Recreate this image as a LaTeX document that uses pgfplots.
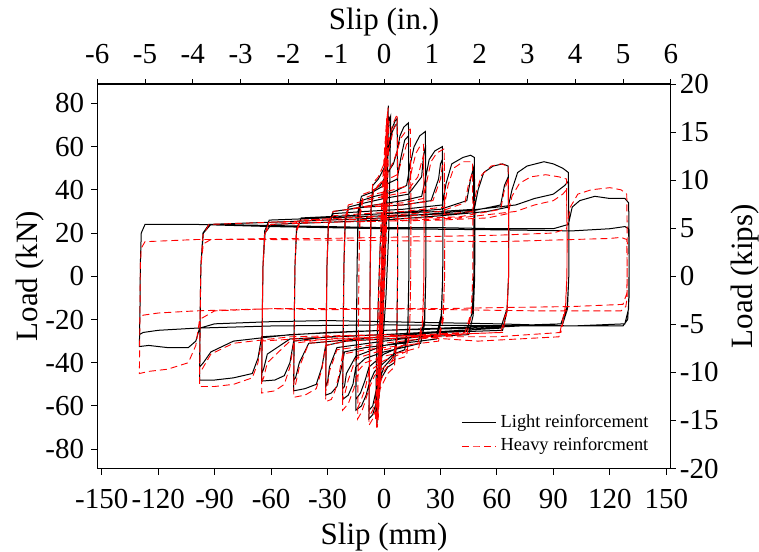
\documentclass[border=0pt]{standalone}
\usepackage{fontspec}
\setmainfont{Liberation Serif}
\usepackage{pgfplots}
\pgfplotsset{compat=1.18}
\begin{document}
\begin{tikzpicture}
\pgfplotsset{
 every axis/.append style={
  width=286.7pt, height=192.2pt, scale only axis,
  tick align=outside, major tick length=3pt,
  tick style={black, line width=0.5pt},
  axis line style={line width=0.6pt},
  tick label style={font=\fontsize{14.5}{16}\selectfont},
  label style={font=\fontsize{15.5}{18}\selectfont, inner sep=0pt},
  /pgf/number format/assume math mode=true,
 }
}
\begin{axis}[
 xmin=-152.4, xmax=152.4, ymin=-88.96, ymax=88.96,
 xtick={-150,-120,...,150}, ytick={-80,-60,...,80},
 xtick pos=bottom, ytick pos=left,
 xticklabel style={yshift=-4pt},
 xlabel={Slip (mm)}, ylabel={Load (kN)},
 xlabel style={at={([yshift=-34pt]rel axis cs:0.5,0)}, anchor=center},
 ylabel style={at={([xshift=-33.5pt]rel axis cs:0,0.5)}, anchor=center},
 legend style={at={(0.979,0.016)}, anchor=south east, draw=none, fill=none,
   font=\fontsize{9.2}{10.5}\selectfont},
 legend cell align=left,
]
\coordinate (fsw) at (rel axis cs:0,0);
\coordinate (fne) at (rel axis cs:1,1);
\addplot[black, line width=0.5pt] coordinates {
(0,0) (0.5,12) (1,25) (0.6,10) (0,-5) (-0.5,-15) (-1,-24) (-0.6,-10) (0,2)
(0.8,20) (1.5,40) (2,52) (1.4,30) (0.5,5) (-0.5,-18) (-1.5,-35) (-2,-44) (-1.3,-22) (-0.3,0)
(0.5,25) (1.2,50) (1.8,68) (2.3,79) (2.0,70) (1.2,45) (0.3,15) (-0.8,-15) (-2,-40) (-3,-58) (-3.8,-69) (-3.2,-50) (-2.2,-25) (-1,0)
(0.2,20) (1.0,45) (2.0,70) (2.6,74) (1.8,55) (0.8,25) (-0.5,-10) (-1.8,-38) (-3,-58) (-4,-66) (-3.3,-45) (-2.2,-20) (-1.2,5)
(-0.2,30) (1.2,58) (2.8,72) (3.5,74) (3.2,50) (2.5,20) (1,-10) (-1,-35) (-2.5,-55) (-4.5,-66) (-4,-40) (-3,-10) (-2,15)
(0.5,38) (2.5,60) (4,68) (6,72) (7,73) (7.3,40) (7.2,0) (6.8,-30) (5.5,-40) (2,-42) (-2,-48) (-4,-58) (-6,-64) (-8,-66)
(-7.6,-30) (-7.4,0) (-7,30) (-6,42) (-3,45) (0,50) (2.5,58) (4,66) (6,70) (7,70)
(7.3,35) (7.2,0) (6.8,-28) (5,-37) (0,-42) (-4,-52) (-6,-60) (-8,-62)
(-7.6,-25) (-7.3,5) (-6.8,32) (-5.5,40) (-2,42) (2,48) (5,52) (7,58) (8.5,65) (10.5,69) (13,71)
(13.3,35) (13.2,0) (12.7,-25) (11,-34) (5,-36) (0,-40) (-5,-44) (-8,-50) (-9.5,-55) (-12,-60) (-15,-62)
(-14.6,-25) (-14.3,5) (-13.8,30) (-12,37) (-6,39) (0,42) (7,45) (9,55) (11,63) (13,65)
(13.3,30) (13.2,0) (12.6,-25) (10.5,-32) (0,-36) (-8,-42) (-10,-48) (-12.5,-54) (-15,-57)
(-14.6,-20) (-14.3,5) (-13.7,28) (-12,35) (-5,37) (5,39) (12,42) (14,52) (16,60) (19,65) (22,67)
(22.3,30) (22.2,0) (21.6,-22) (19.5,-31) (10,-33) (0,-35) (-10,-38) (-15,-42) (-16.5,-50) (-19,-55) (-22,-57)
(-21.6,-20) (-21.3,5) (-20.7,26) (-19,32) (-10,34) (0,36) (13,38) (20,46) (21,56) (22,60)
(22.3,25) (22.2,0) (21.5,-20) (19,-29) (0,-32) (-15,-37) (-20,-45) (-21,-51) (-22,-52)
(-21.6,-18) (-21.3,5) (-20.6,25) (-19,31) (-5,33) (10,35) (20,37) (22,45) (24,54) (27,58) (31,60)
(31.3,25) (31.2,0) (30.5,-20) (28,-29) (10,-31) (-10,-33) (-21,-35) (-23,-44) (-25,-51) (-28,-54) (-31,-55)
(-30.6,-18) (-30.3,5) (-29.6,24) (-27,30) (-10,32) (10,33) (25,35) (29,45) (30,52) (31,54)
(31.3,22) (31.2,0) (30.4,-18) (28,-27) (0,-30) (-25,-33) (-29,-42) (-30,-49) (-31,-51)
(-30.6,-15) (-30.3,5) (-29.5,24) (-27,29) (-10,30) (10,31) (31,33) (33,43) (36,52) (42,55) (46,56) (48,55)
(48.3,22) (48.2,0) (47.4,-18) (45,-27) (20,-28) (0,-29) (-20,-30) (-31,-32) (-33,-42) (-36,-50) (-42,-52) (-48,-53)
(-47.6,-15) (-47.3,5) (-46.5,22) (-44,27) (-20,28) (0,29) (30,31) (44,35) (46,45) (47.5,50)
(47.8,20) (47.7,0) (46.8,-17) (44,-25) (0,-28) (-40,-31) (-45,-40) (-47,-47) (-48,-48)
(-47.6,-14) (-47.3,5) (-46.4,22) (-44,27) (-20,28) (0,29) (30,30) (48,31) (50,40) (53,48) (58,51) (63,52) (66,51)
(66.3,20) (66.2,0) (65.4,-16) (63,-25) (30,-26) (0,-27) (-30,-28) (-48,-30) (-50,-40) (-53,-46) (-58,-48) (-65,-48.5)
(-64.6,-14) (-64.3,5) (-63.4,21) (-61,26) (-30,27) (0,28) (40,29) (62,33) (64,42) (66,46)
(66.3,18) (66.2,0) (65.4,-15) (62,-24) (0,-27) (-50,-29) (-62,-36) (-64,-43) (-65,-45)
(-64.6,-12) (-64.3,5) (-63.2,20) (-60,24) (-30,25) (0,26) (30,28) (55,30) (66,32) (68,40) (71,48) (76,51) (85,53) (90,52) (95,50) (98,48)
(98.3,18) (98.2,0) (97.5,-15) (95,-22) (60,-23) (30,-24) (0,-25) (-30,-26) (-65,-28) (-67,-38) (-70,-45) (-80,-47) (-90,-48) (-98,-48)
(-97.6,-12) (-97.3,5) (-96.2,20) (-93,24) (-60,25) (-30,26) (0,27) (40,30) (70,33) (80,36) (90,38) (96,42) (98,44)
(98.3,15) (98.2,0) (97.4,-14) (94,-22) (50,-24) (0,-25) (-50,-27) (-80,-30) (-92,-35) (-96,-40) (-98,-42)
(-97.6,-10) (-97.3,5) (-96,20) (-92,24) (-60,23.5) (-30,23) (0,22.5) (30,22.5) (60,22) (90,22) (98,24) (100,32) (104,35) (112,37) (120,36) (128,36) (130,34)
(130.3,15) (130.2,0) (130,-15) (128,-22) (100,-23) (60,-22) (30,-21.5) (0,-21) (-30,-20.5) (-60,-21) (-90,-22) (-98,-24) (-100,-30) (-104,-33) (-115,-33) (-125,-32) (-130,-32.5)
(-129.6,-10) (-129.5,5) (-129,20) (-127,24) (-100,24) (-60,23) (0,22) (60,21.5) (100,21) (120,22) (128,23) (130,22)
(130.2,10) (130.2,-10) (129.5,-20) (127,-23) (80,-23) (0,-22.5) (-60,-23) (-100,-24) (-120,-25) (-128,-26) (-130,-27)
};
\addplot[red, line width=0.45pt, dash pattern=on 3.5pt off 2pt] coordinates {
(0,0) (0.5,15) (1,30) (0.6,15) (-0.3,-5) (-1,-25) (-1.5,-35) (-1,-20) (0,0)
(0.8,30) (1.4,50) (1.0,35) (0,5) (-1,-25) (-2,-48) (-1.6,-35) (-0.6,-8) (0.3,15)
(1,45) (1.6,65) (2,75) (1.5,55) (0.5,20) (-0.8,-15) (-2,-45) (-3,-65) (-3.6,-70) (-3,-52) (-2,-25) (-1,2)
(0,30) (1,55) (1.8,72) (2.2,78) (1.6,58) (0.6,25) (-0.6,-10) (-1.8,-40) (-3,-62) (-3.8,-68) (-3.2,-48) (-2.2,-20) (-1.2,8)
(-0.2,35) (0.8,60) (1.6,74) (1.0,52) (0,20) (-1.2,-15) (-2.4,-45) (-3.4,-66) (-2.8,-45) (-1.8,-15) (-0.8,15)
(0.2,42) (1.2,66) (1.9,76) (1.3,55) (0.2,22) (-1,-12) (-2.2,-42) (-3.5,-64) (-4,-70) (-3.4,-50) (-2.4,-22) (-1.4,8)
(-0.4,38) (0.6,62) (1.4,73) (0.8,50) (-0.2,18) (-1.4,-18) (-2.6,-48) (-3.8,-68) (-3.0,-42) (-1.9,-12) (-1,12)
(0,40) (1.5,62) (2.6,72) (2.2,50) (1.2,20) (0,-10) (-1.5,-40) (-3,-60) (-4.5,-67) (-4,-45) (-3,-15) (-2,15)
(-1,40) (0.4,60) (1.8,70) (1.4,45) (0.6,15) (-0.6,-20) (-2,-50) (-3.2,-62) (-4.2,-60) (-3.6,-30) (-2.6,0) (-1.6,25)
(0.5,40) (2.5,62) (4.5,70) (6.5,74) (7,75) (7.3,40) (7.2,0) (6.8,-30) (5.5,-42) (2,-45) (-2,-52) (-4,-60) (-6,-66) (-8,-69)
(-7.6,-32) (-7.4,0) (-7,30) (-6,43) (-3,46) (0,52) (3,60) (5,68) (7,71)
(7.3,35) (7.2,0) (6.8,-28) (5,-38) (0,-44) (-4,-55) (-6,-62) (-8,-65)
(-7.6,-28) (-7.3,5) (-6.8,32) (-5.5,40) (-2,43) (2,48) (5,53) (7,58) (9,64) (11.5,67) (14,68)
(14.3,35) (14.2,0) (13.7,-25) (12,-37) (5,-39) (0,-42) (-5,-46) (-8,-52) (-10,-58) (-12,-63) (-14,-66)
(-13.6,-28) (-13.3,5) (-12.8,30) (-11,38) (-5,40) (0,44) (7,47) (10,55) (12,61) (14,63)
(14.3,30) (14.2,0) (13.6,-25) (11.5,-35) (0,-39) (-8,-44) (-10,-52) (-12.5,-58) (-14,-61)
(-13.6,-22) (-13.3,5) (-12.7,28) (-11,36) (-5,38) (5,40) (13,42) (15,50) (17,57) (19,60) (21,61)
(21.3,30) (21.2,0) (20.6,-22) (18.5,-33) (10,-35) (0,-37) (-10,-40) (-14,-44) (-16,-52) (-19,-59) (-22,-62)
(-21.6,-22) (-21.3,5) (-20.7,26) (-19,33) (-10,35) (0,37) (12,39) (18,46) (20,53) (21,56)
(21.3,25) (21.2,0) (20.5,-20) (18,-31) (0,-34) (-15,-38) (-19,-48) (-21,-55) (-22,-57)
(-21.6,-18) (-21.3,5) (-20.6,25) (-19,31) (-5,33) (10,34) (21,36) (23,45) (25,53) (28,57) (32,59)
(32.3,25) (32.2,0) (31.5,-20) (29,-30) (10,-32) (-10,-34) (-22,-36) (-24,-46) (-26,-53) (-28,-57) (-31,-58)
(-30.6,-18) (-30.3,5) (-29.6,24) (-27,30) (-10,32) (10,33) (26,35) (30,45) (31,51) (32,53)
(32.3,22) (32.2,0) (31.4,-18) (29,-28) (0,-31) (-25,-34) (-29,-44) (-30,-51) (-31,-53)
(-30.6,-15) (-30.3,5) (-29.5,24) (-27,28) (-10,29) (10,30) (32,32) (34,42) (37,50) (42,53) (47,53)
(47.3,22) (47.2,0) (46.4,-18) (44,-27) (20,-28) (0,-29) (-20,-30) (-31,-32) (-33,-43) (-36,-52) (-42,-55) (-48,-56)
(-47.6,-15) (-47.3,5) (-46.5,22) (-44,26) (-20,27) (0,28) (30,30) (43,34) (45,43) (47,48)
(47.3,20) (47.2,0) (46.3,-17) (43,-26) (0,-28) (-40,-31) (-45,-42) (-47,-50) (-48,-51)
(-47.6,-14) (-47.3,5) (-46.4,21) (-44,26) (-20,27) (0,27.5) (30,28.5) (47,30) (49,39) (52,47) (57,51) (62,52) (66,51)
(66.3,20) (66.2,0) (65.4,-16) (63,-26) (30,-27) (0,-28) (-30,-29) (-48,-31) (-50,-42) (-53,-50) (-58,-53) (-65,-54)
(-64.6,-14) (-64.3,5) (-63.4,20) (-61,25) (-30,26) (0,26.5) (40,27.5) (62,31) (64,40) (66,45)
(66.3,18) (66.2,0) (65.4,-15) (62,-26) (0,-28) (-50,-30) (-62,-40) (-64,-47) (-65,-49)
(-64.6,-12) (-64.3,5) (-63.2,20) (-60,24) (-30,25) (0,25.5) (30,26) (55,27) (66,29) (68,37) (72,43) (78,46) (86,47) (93,46) (97,45)
(97.3,18) (97.2,0) (96.5,-15) (94,-26) (60,-28) (30,-28) (0,-27) (-30,-28) (-65,-30) (-67,-40) (-70,-47) (-80,-50) (-90,-51) (-98,-51)
(-97.6,-12) (-97.3,5) (-96.2,19) (-93,24) (-60,25) (-30,25) (0,25.5) (40,27) (70,30) (80,33) (90,35) (95,38) (97,40)
(97.3,15) (97.2,0) (96.4,-14) (93,-28) (50,-30) (0,-27) (-50,-28) (-80,-31) (-92,-36) (-96,-42) (-98,-45)
(-97.6,-8) (-97.3,5) (-96,15) (-92,17) (-60,17.5) (-30,17.5) (0,18) (30,18.5) (60,19) (90,20) (97,22) (99,32) (103,38) (110,40) (120,41) (126,40) (129,38)
(129.3,15) (129.2,0) (129,-8) (127,-13) (100,-14) (60,-14.5) (30,-15) (0,-15) (-30,-15.5) (-60,-15) (-90,-16) (-98,-20) (-100,-32) (-104,-40) (-115,-43) (-125,-44) (-130,-45)
(-129.6,-10) (-129.5,5) (-129,13) (-127,16) (-100,17) (-60,17) (0,16.5) (60,16) (100,17) (120,17.5) (126,18) (129,17)
(129.2,5) (129.2,-10) (128.5,-14) (126,-16) (80,-16) (0,-15) (-60,-15) (-100,-16) (-120,-17) (-128,-18) (-130,-20)
};
\legend{Light reinforcement, Heavy reinforcment}
\end{axis}
\begin{axis}[
 xmin=-6, xmax=6, ymin=-20, ymax=20,
 xtick={-6,-5,...,6}, ytick={-20,-15,...,20},
 major tick length=2.5pt,
 xtick pos=top, ytick pos=right, xticklabel pos=top, yticklabel pos=right,
 xticklabel style={yshift=4pt}, yticklabel style={xshift=-1.5pt},
 xlabel={Slip (in.)}, ylabel={Load (kips)},
 xlabel style={at={([yshift=31pt]rel axis cs:0.5,1)}, anchor=center},
 ylabel style={at={([xshift=37pt]rel axis cs:1,0.5)}, anchor=center},
]
\end{axis}
\path ([shift={(-48.6pt,-41.3pt)}]fsw) rectangle ([shift={(44.1pt,42pt)}]fne);
\end{tikzpicture}
\end{document}
